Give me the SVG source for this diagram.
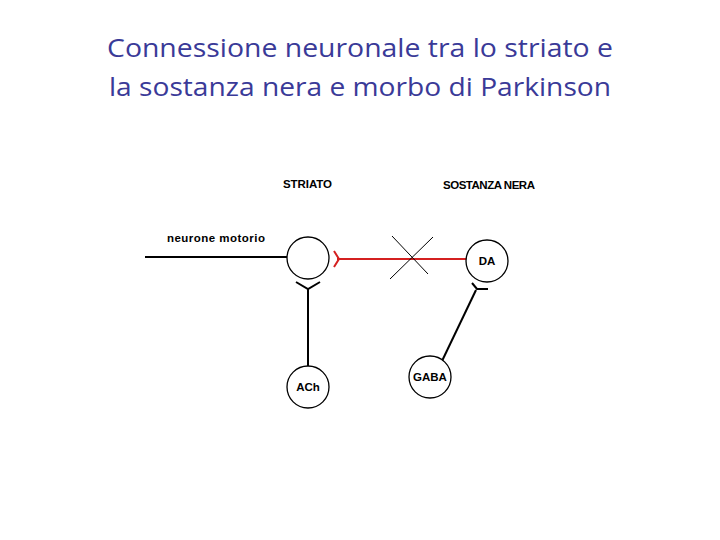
<svg xmlns="http://www.w3.org/2000/svg" width="720" height="540" viewBox="0 0 720 540">
<style>
.t{font-family:"Open Sans","Liberation Sans",sans-serif;font-size:26px;font-weight:500;fill:#3a3a98;text-anchor:middle}
.l{font-family:"Liberation Sans",Arial,sans-serif;font-size:11.5px;font-weight:bold;fill:#000}
.c{fill:#fff;stroke:#000;stroke-width:1.3}
.k{fill:none;stroke:#000;stroke-width:2}
</style>
<rect width="720" height="540" fill="#fff"/>
<text class="t" x="360" y="57" textLength="506" lengthAdjust="spacingAndGlyphs">Connessione neuronale tra lo striato e</text>
<text class="t" x="360" y="96" textLength="502" lengthAdjust="spacingAndGlyphs">la sostanza nera e morbo di Parkinson</text>
<text class="l" x="283" y="188" textLength="49">STRIATO</text>
<text class="l" x="443" y="189" textLength="92">SOSTANZA NERA</text>
<text class="l" x="167" y="242" textLength="98">neurone motorio</text>
<g id="connectors">
<line class="k" x1="145" y1="257" x2="287" y2="257"/>
<line x1="337" y1="259" x2="467" y2="259" stroke="#d42020" stroke-width="2"/>
<path d="M334 251 L339 259 L334 267" fill="none" stroke="#d42020" stroke-width="2"/>
<line x1="392" y1="236" x2="428" y2="274" stroke="#000" stroke-width="1"/>
<line x1="433" y1="237" x2="390" y2="279" stroke="#000" stroke-width="1"/>
<line class="k" x1="308" y1="288" x2="308" y2="366"/>
<path class="k" d="M296 282 L308 289 L320 282"/>
<line class="k" x1="442" y1="361" x2="476" y2="290"/>
<path class="k" d="M472 283 L477 289 L488 289"/>
</g>
<g id="striato"><circle class="c" cx="308" cy="258" r="21"/></g>
<g id="da"><circle class="c" cx="487" cy="261" r="21"/><text class="l" x="487" y="265" text-anchor="middle">DA</text></g>
<g id="ach"><circle class="c" cx="308" cy="387" r="21"/><text class="l" x="308" y="391" text-anchor="middle">ACh</text></g>
<g id="gaba"><circle class="c" cx="430" cy="377" r="21"/><text class="l" x="430" y="381" text-anchor="middle">GABA</text></g>
</svg>
